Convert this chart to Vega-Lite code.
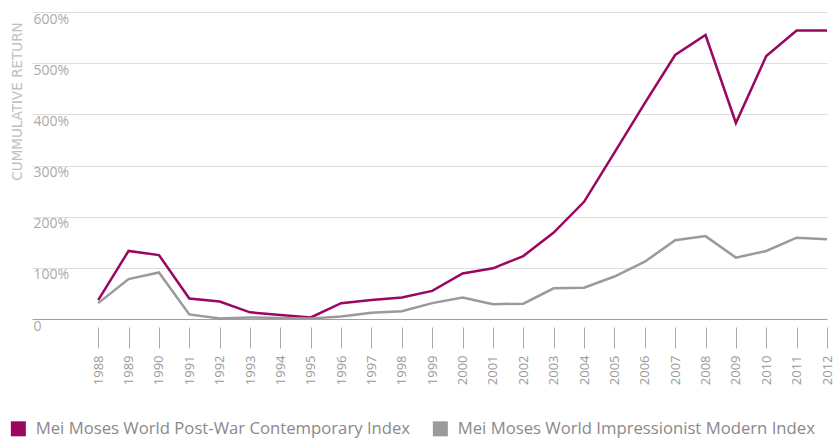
{
  "$schema": "https://vega.github.io/schema/vega-lite/v6.json",
  "width": 795,
  "height": 307,
  "autosize": {"type": "none"},
  "padding": {"left": 32, "top": 12, "right": 6, "bottom": 121},
  "background": "white",
  "config": {
    "view": {"stroke": null},
    "font": "Open Sans",
    "axis": {"labelFont": "Open Sans", "titleFont": "DejaVu Sans"},
    "legend": {"labelFont": "Open Sans"}
  },
  "data": {
    "values": [
      {"year": 1988, "series": "Mei Moses World Post-War Contemporary Index", "value": 37},
      {"year": 1989, "series": "Mei Moses World Post-War Contemporary Index", "value": 133},
      {"year": 1990, "series": "Mei Moses World Post-War Contemporary Index", "value": 125},
      {"year": 1991, "series": "Mei Moses World Post-War Contemporary Index", "value": 40},
      {"year": 1992, "series": "Mei Moses World Post-War Contemporary Index", "value": 34},
      {"year": 1993, "series": "Mei Moses World Post-War Contemporary Index", "value": 13},
      {"year": 1994, "series": "Mei Moses World Post-War Contemporary Index", "value": 8},
      {"year": 1995, "series": "Mei Moses World Post-War Contemporary Index", "value": 3},
      {"year": 1996, "series": "Mei Moses World Post-War Contemporary Index", "value": 31},
      {"year": 1997, "series": "Mei Moses World Post-War Contemporary Index", "value": 37},
      {"year": 1998, "series": "Mei Moses World Post-War Contemporary Index", "value": 42},
      {"year": 1999, "series": "Mei Moses World Post-War Contemporary Index", "value": 55},
      {"year": 2000, "series": "Mei Moses World Post-War Contemporary Index", "value": 89},
      {"year": 2001, "series": "Mei Moses World Post-War Contemporary Index", "value": 99},
      {"year": 2002, "series": "Mei Moses World Post-War Contemporary Index", "value": 123},
      {"year": 2003, "series": "Mei Moses World Post-War Contemporary Index", "value": 169},
      {"year": 2004, "series": "Mei Moses World Post-War Contemporary Index", "value": 229},
      {"year": 2005, "series": "Mei Moses World Post-War Contemporary Index", "value": 325},
      {"year": 2006, "series": "Mei Moses World Post-War Contemporary Index", "value": 422},
      {"year": 2007, "series": "Mei Moses World Post-War Contemporary Index", "value": 516},
      {"year": 2008, "series": "Mei Moses World Post-War Contemporary Index", "value": 555},
      {"year": 2009, "series": "Mei Moses World Post-War Contemporary Index", "value": 383},
      {"year": 2010, "series": "Mei Moses World Post-War Contemporary Index", "value": 514},
      {"year": 2011, "series": "Mei Moses World Post-War Contemporary Index", "value": 564},
      {"year": 2012, "series": "Mei Moses World Post-War Contemporary Index", "value": 564},
      {"year": 1988, "series": "Mei Moses World Impressionist Modern Index", "value": 31},
      {"year": 1989, "series": "Mei Moses World Impressionist Modern Index", "value": 78},
      {"year": 1990, "series": "Mei Moses World Impressionist Modern Index", "value": 91},
      {"year": 1991, "series": "Mei Moses World Impressionist Modern Index", "value": 9},
      {"year": 1992, "series": "Mei Moses World Impressionist Modern Index", "value": 1},
      {"year": 1993, "series": "Mei Moses World Impressionist Modern Index", "value": 3},
      {"year": 1994, "series": "Mei Moses World Impressionist Modern Index", "value": 2},
      {"year": 1995, "series": "Mei Moses World Impressionist Modern Index", "value": 1},
      {"year": 1996, "series": "Mei Moses World Impressionist Modern Index", "value": 5},
      {"year": 1997, "series": "Mei Moses World Impressionist Modern Index", "value": 12},
      {"year": 1998, "series": "Mei Moses World Impressionist Modern Index", "value": 15},
      {"year": 1999, "series": "Mei Moses World Impressionist Modern Index", "value": 31},
      {"year": 2000, "series": "Mei Moses World Impressionist Modern Index", "value": 42},
      {"year": 2001, "series": "Mei Moses World Impressionist Modern Index", "value": 29},
      {"year": 2002, "series": "Mei Moses World Impressionist Modern Index", "value": 30},
      {"year": 2003, "series": "Mei Moses World Impressionist Modern Index", "value": 60},
      {"year": 2004, "series": "Mei Moses World Impressionist Modern Index", "value": 61},
      {"year": 2005, "series": "Mei Moses World Impressionist Modern Index", "value": 83},
      {"year": 2006, "series": "Mei Moses World Impressionist Modern Index", "value": 112},
      {"year": 2007, "series": "Mei Moses World Impressionist Modern Index", "value": 154},
      {"year": 2008, "series": "Mei Moses World Impressionist Modern Index", "value": 162},
      {"year": 2009, "series": "Mei Moses World Impressionist Modern Index", "value": 120},
      {"year": 2010, "series": "Mei Moses World Impressionist Modern Index", "value": 133},
      {"year": 2011, "series": "Mei Moses World Impressionist Modern Index", "value": 159},
      {"year": 2012, "series": "Mei Moses World Impressionist Modern Index", "value": 156}
    ]
  },
  "mark": {"type": "line", "strokeWidth": 2.5, "strokeJoin": "miter"},
  "encoding": {
    "x": {
      "field": "year",
      "type": "quantitative",
      "scale": {"domain": [1985.82, 2012], "nice": false, "zero": false},
      "axis": {
        "values": [1988, 1989, 1990, 1991, 1992, 1993, 1994, 1995, 1996, 1997, 1998, 1999, 2000, 2001, 2002, 2003, 2004, 2005, 2006, 2007, 2008, 2009, 2010, 2011, 2012],
        "format": "d",
        "title": null,
        "domain": false,
        "grid": false,
        "offset": 8,
        "tickSize": 21,
        "tickColor": "#aaaaaa",
        "tickWidth": 1,
        "labelAngle": -90,
        "labelAlign": "right",
        "labelBaseline": "middle",
        "labelPadding": 7,
        "labelFontSize": 13,
        "labelColor": "#999999",
        "labelOverlap": false,
        "labelBound": false,
        "labelFlush": false
      }
    },
    "y": {
      "field": "value",
      "type": "quantitative",
      "scale": {"domain": [0, 600], "nice": false},
      "axis": {
        "values": [0, 100, 200, 300, 400, 500, 600],
        "labelExpr": "datum.value === 0 ? '0' : datum.value + '%'",
        "title": "CUMMULATIVE RETURN",
        "titleFontSize": 13.5,
        "titleFontWeight": "normal",
        "titleColor": "#c0c0c0",
        "titleAngle": -90,
        "titleAlign": "center",
        "titleBaseline": "middle",
        "titleX": -15,
        "titleY": 89,
        "domain": false,
        "ticks": false,
        "tickSize": 0,
        "labelAlign": "left",
        "labelBaseline": "top",
        "labelPadding": -1,
        "labelDy": 3,
        "labelFontSize": 14,
        "labelColor": "#aaaaaa",
        "grid": true,
        "gridColor": {"condition": {"test": "datum.value === 0", "value": "#a0a0a0"}, "value": "#dddddd"},
        "gridWidth": 1.2
      }
    },
    "color": {
      "field": "series",
      "type": "nominal",
      "sort": ["Mei Moses World Post-War Contemporary Index", "Mei Moses World Impressionist Modern Index"],
      "scale": {
        "domain": ["Mei Moses World Post-War Contemporary Index", "Mei Moses World Impressionist Modern Index"],
        "range": ["#9a0660", "#9a9a9c"]
      },
      "legend": {
        "title": null,
        "orient": "none",
        "direction": "horizontal",
        "legendX": -22,
        "legendY": 408,
        "symbolType": "square",
        "symbolSize": 225,
        "symbolStrokeWidth": 0,
        "symbolOpacity": 1,
        "labelFontSize": 16.7,
        "labelColor": "#8a8a8a",
        "labelOffset": 9,
        "columnPadding": 21,
        "labelLimit": 500,
        "encode": {
          "symbols": {
            "update": {
              "fill": {"scale": "color", "field": "value"},
              "fillOpacity": {"value": 1},
              "strokeWidth": {"value": 0}
            }
          }
        }
      }
    }
  }
}
